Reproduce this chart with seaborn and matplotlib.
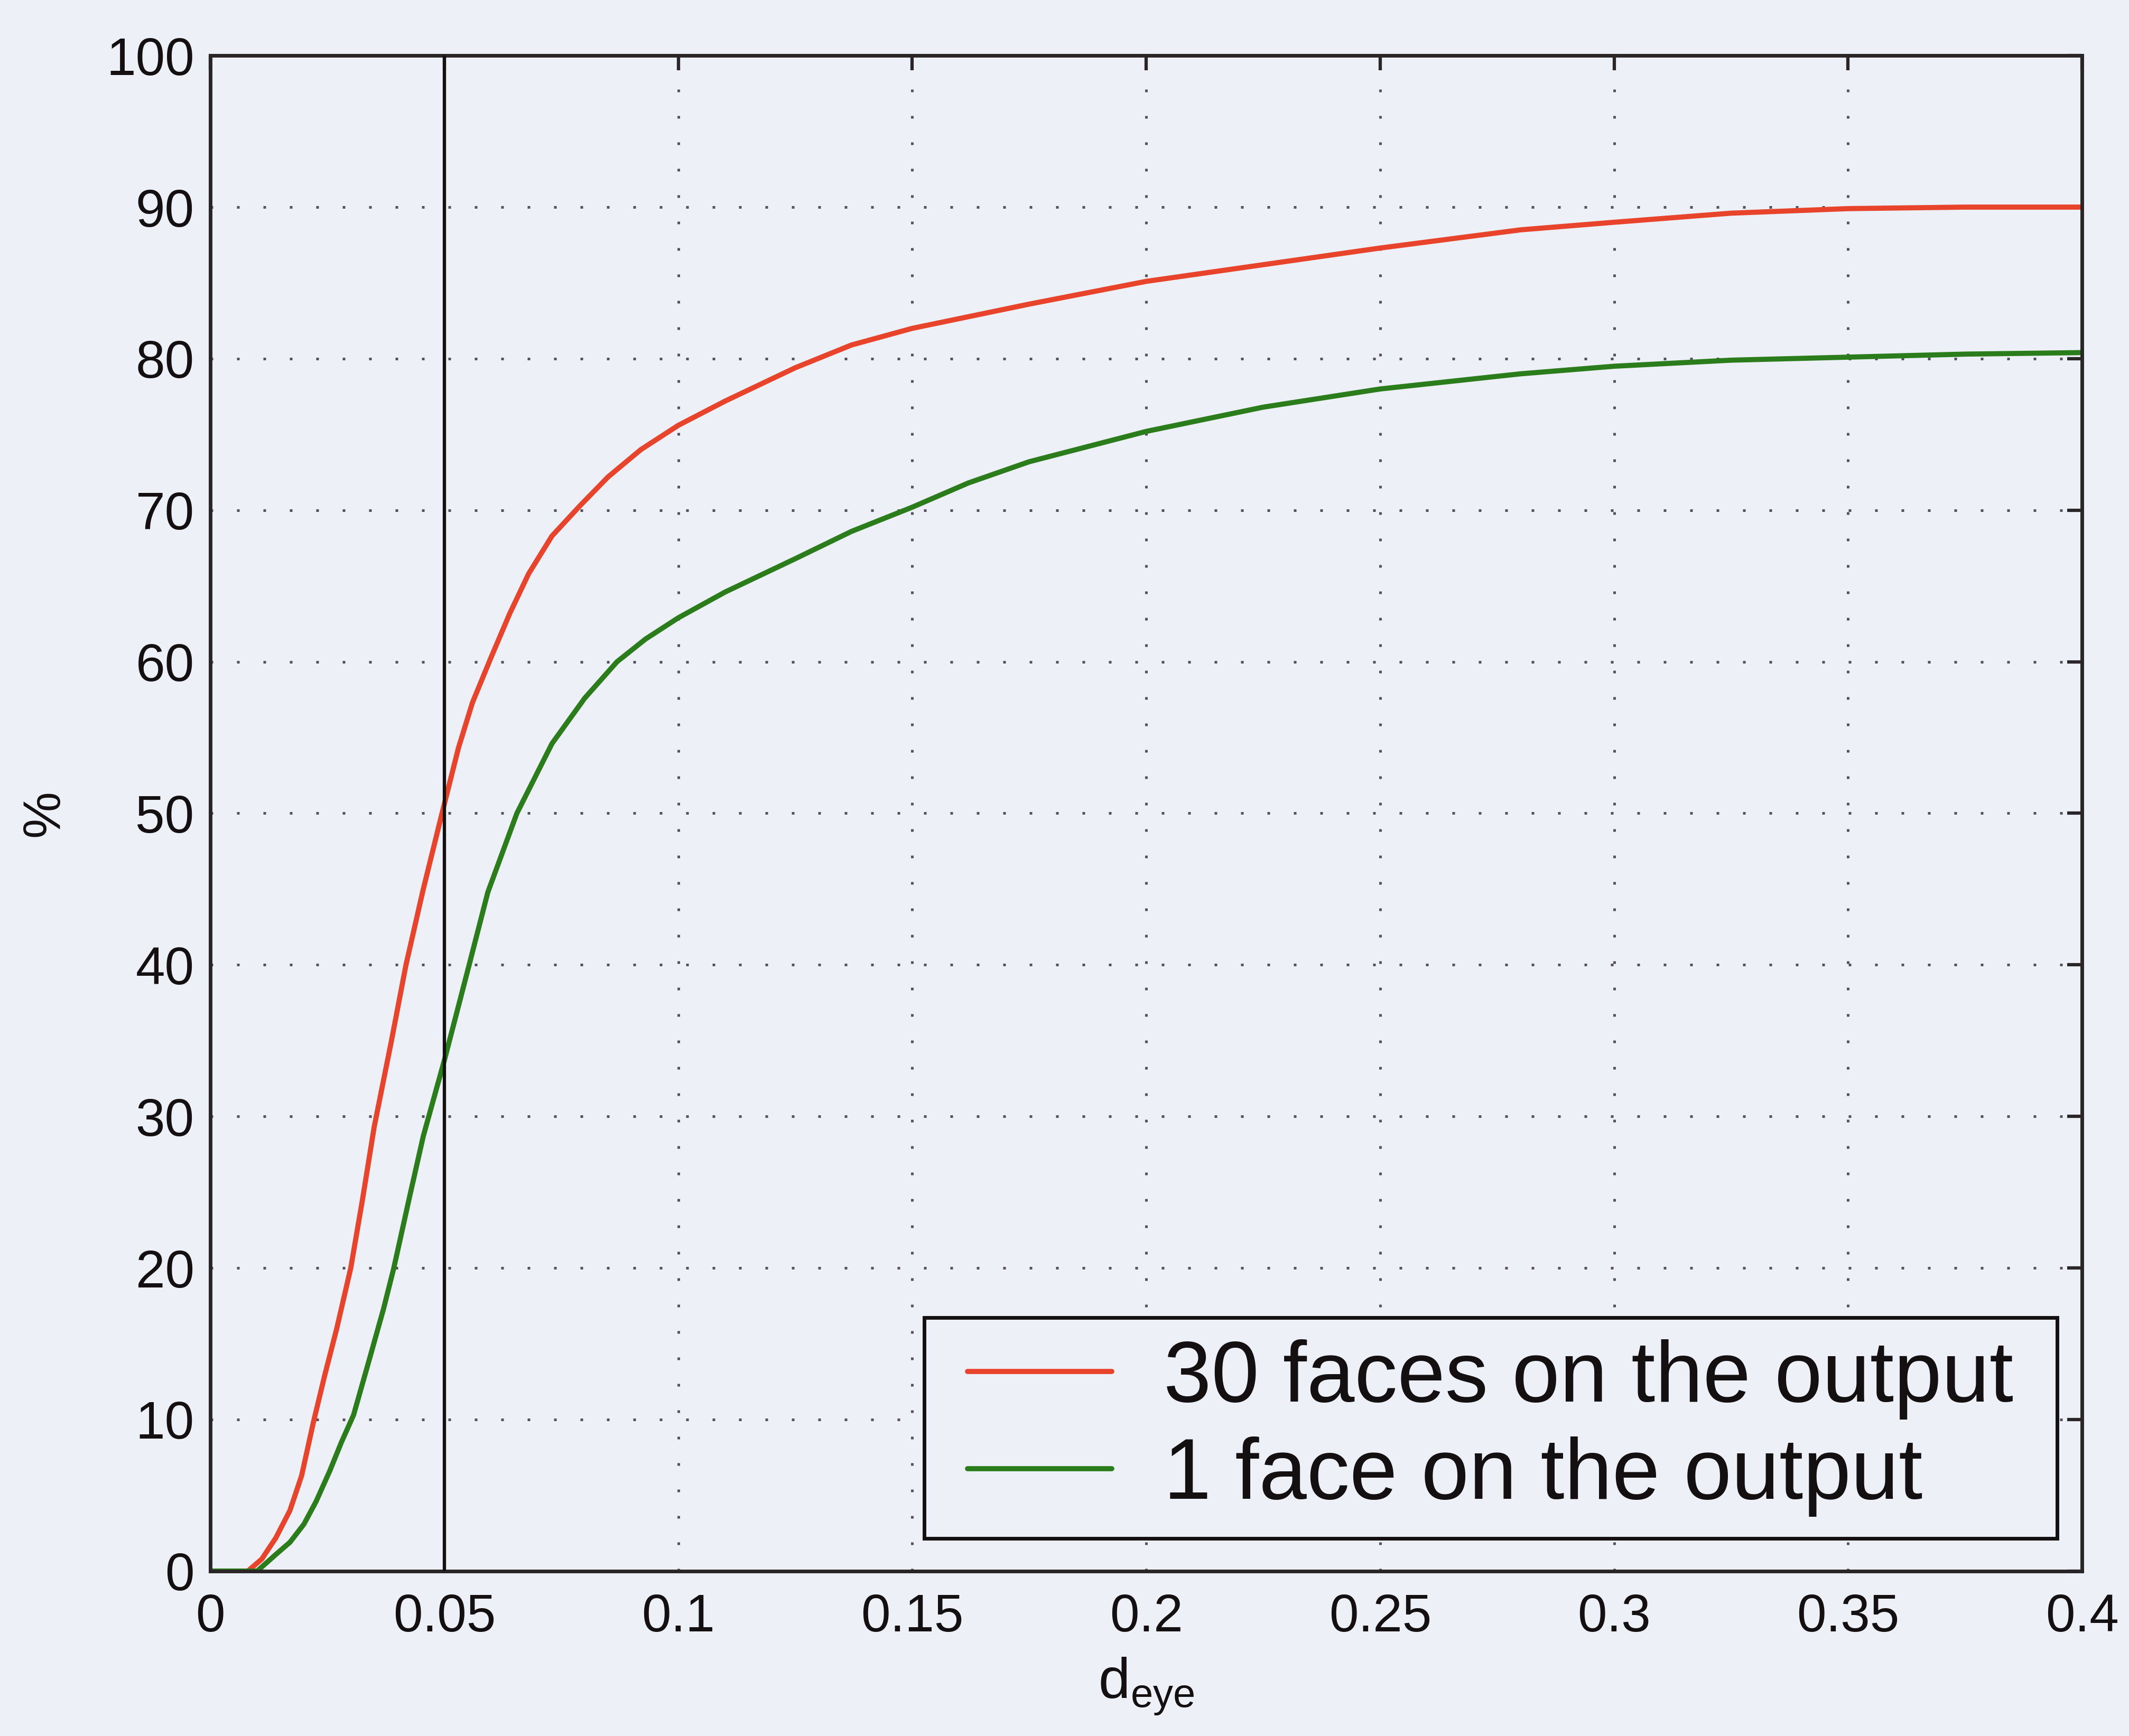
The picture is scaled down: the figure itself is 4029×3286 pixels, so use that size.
import numpy as np
import pandas as pd
import matplotlib
matplotlib.use("Agg")
import matplotlib.pyplot as plt
from matplotlib.patches import Rectangle
import seaborn as sns

# Cumulative detection rate (%) versus normalised eye distance d_eye
d_eye_30 = [0.0, 0.008, 0.011, 0.014, 0.017, 0.0195, 0.022, 0.0245, 0.027, 0.030,
            0.0325, 0.035, 0.0387, 0.0418, 0.0455, 0.0495, 0.053, 0.056, 0.060, 0.064,
            0.068, 0.073, 0.079, 0.085, 0.092, 0.100, 0.110, 0.125, 0.137, 0.150,
            0.175, 0.200, 0.225, 0.250, 0.280, 0.300, 0.325, 0.350, 0.375, 0.400]
pct_30 = [0.0, 0.0, 0.8, 2.2, 4.0, 6.3, 9.8, 13.0, 16.0, 20.0,
          24.5, 29.3, 35.0, 40.0, 45.0, 50.0, 54.3, 57.3, 60.3, 63.2,
          65.8, 68.3, 70.3, 72.2, 74.0, 75.6, 77.2, 79.4, 80.9, 82.0,
          83.6, 85.1, 86.2, 87.3, 88.5, 89.0, 89.6, 89.9, 90.0, 90.0]

d_eye_1 = [0.0, 0.010, 0.014, 0.017, 0.020, 0.0226, 0.0255, 0.028, 0.0306, 0.034,
           0.037, 0.0392, 0.0425, 0.0455, 0.050, 0.0553, 0.0593, 0.0655, 0.073, 0.080,
           0.0869, 0.093, 0.100, 0.110, 0.125, 0.137, 0.150, 0.162, 0.175, 0.200,
           0.225, 0.250, 0.280, 0.300, 0.325, 0.350, 0.375, 0.400]
pct_1 = [0.0, 0.0, 1.1, 1.9, 3.1, 4.6, 6.6, 8.5, 10.3, 14.0,
         17.3, 20.0, 24.6, 28.7, 33.7, 40.0, 44.8, 50.0, 54.6, 57.6,
         60.0, 61.5, 62.9, 64.6, 66.8, 68.6, 70.2, 71.8, 73.2, 75.2,
         76.8, 78.0, 79.0, 79.5, 79.9, 80.1, 80.3, 80.4]

series_labels = ["30 faces on the output", "1 face on the output"]
series_colors = ["#e8432b", "#2b7d1c"]

x_ticks = [0, 0.05, 0.1, 0.15, 0.2, 0.25, 0.3, 0.35, 0.4]
x_tick_labels = ["0", "0.05", "0.1", "0.15", "0.2", "0.25", "0.3", "0.35", "0.4"]
y_ticks = [0, 10, 20, 30, 40, 50, 60, 70, 80, 90, 100]
y_tick_labels = [str(v) for v in y_ticks]
threshold = 0.05

df = pd.concat([
    pd.DataFrame({"d_eye": d_eye_30, "pct": pct_30, "series": series_labels[0]}),
    pd.DataFrame({"d_eye": d_eye_1, "pct": pct_1, "series": series_labels[1]}),
], ignore_index=True)

sns.set_theme(style="white")
paper = "#eef0f8"
ink = "#141012"
frame = "#2a2628"
plt.rcParams["font.family"] = ["Liberation Sans", "DejaVu Sans"]
plt.rcParams["mathtext.fontset"] = "custom"
plt.rcParams["mathtext.rm"] = "Liberation Sans"
plt.rcParams["mathtext.it"] = "Liberation Sans"

fig = plt.figure(figsize=(40.30, 32.86), dpi=100, facecolor=paper)
ax = fig.add_axes([0.0988, 0.095, 0.8789, 0.873])
ax.set_facecolor(paper)

sns.lineplot(data=df, x="d_eye", y="pct", hue="series",
             palette=dict(zip(series_labels, series_colors)),
             hue_order=series_labels, estimator=None, sort=True,
             linewidth=7, ax=ax)

ax.axvline(threshold, color=ink, linewidth=4.5, zorder=3)

ax.set_xlim(0, 0.4)
ax.set_ylim(0, 100)
ax.set_xticks(x_ticks)
ax.set_xticklabels(x_tick_labels)
ax.set_yticks(y_ticks)
ax.set_yticklabels(y_tick_labels)

ax.grid(True, color="#55525a", linestyle=(0, (1, 9)), linewidth=3.6)
ax.tick_params(axis="both", which="major", direction="in", length=20, width=4.5,
               color=frame, labelsize=72, labelcolor=ink,
               top=True, right=True)
ax.tick_params(axis="x", pad=30)
ax.tick_params(axis="y", pad=22)
for spine in ax.spines.values():
    spine.set_color(frame)
    spine.set_linewidth(5)

ax.set_xlabel(r"d$_{\mathrm{eye}}$", fontsize=78, color=ink, labelpad=18)
ax.set_ylabel("%", fontsize=72, color=ink, labelpad=50)

# Legend: wider side margins than top/bottom, so the frame is drawn separately
side_px = 42
ax_w_px = fig.get_figwidth() * fig.dpi * ax.get_position().width
leg = ax.legend(loc="lower right",
                bbox_to_anchor=(0.9866 - side_px / ax_w_px, 0.0216),
                borderaxespad=0, fontsize=117, frameon=False,
                handlelength=1.68, handletextpad=0.6, labelspacing=0.2,
                borderpad=0.25)
leg.set_zorder(6)
for line in leg.get_lines():
    line.set_linewidth(7)
for t in leg.get_texts():
    t.set_color(ink)

fig.canvas.draw()
bb = leg.get_window_extent()
fw, fh = fig.get_figwidth() * fig.dpi, fig.get_figheight() * fig.dpi
box = Rectangle(((bb.x0 - side_px) / fw, bb.y0 / fh),
                (bb.width + 2 * side_px) / fw, bb.height / fh,
                transform=fig.transFigure, facecolor=paper, edgecolor=ink,
                linewidth=5, zorder=5.5, clip_on=False)
ax.add_artist(box)

fig.savefig("out.png", dpi=100, facecolor=paper)
